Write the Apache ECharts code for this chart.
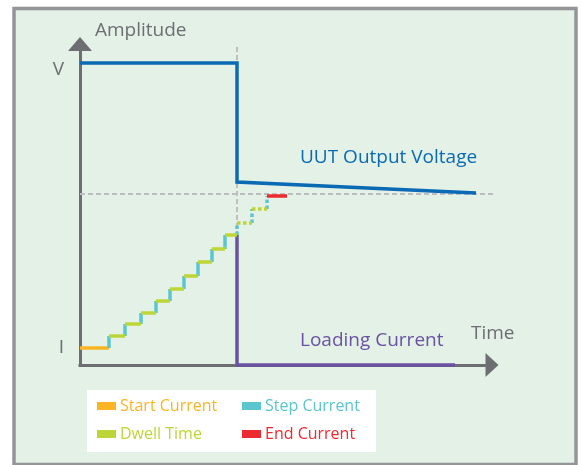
<!DOCTYPE html>
<html>
<head>
<meta charset="utf-8">
<script src="https://cdn.jsdelivr.net/npm/echarts@6/dist/echarts.min.js"></script>
<style>
html,body{margin:0;padding:0;background:#fff;}
#c{width:582px;height:465px;}
</style>
</head>
<body>
<div id="c"></div>
<script>
// ---- data (abstract units: time, amplitude) ----
const stepTimes = [0, 2.9, 4.5, 6.1, 7.6, 9.0, 10.4, 11.8, 13.2, 14.5, 15.7, 17.2, 18.7, 20.7];
const stepLevels = [1.7, 2.9, 4.1, 5.2, 6.4, 7.6, 8.9, 10.3, 11.6, 13.0, 14.2, 15.6, 16.9];
const dottedFrom = 10; // steps from this index on are drawn dotted
const voltageTimes = [0, 15.7, 15.7, 39.6];
const voltageValues = [30.2, 30.2, 18.3, 17.2];
const loadTimes = [15.7, 15.7, 37.5];
const loadValues = [13.0, 0, 0];
const guideLevel = 17.1;       // horizontal dashed guide
const guideTimeEnd = 41.3;
const guideTime = 15.7;        // vertical dashed guide
const guideTop = 31.8;
const tickValues = [29.5, 1.75];
const tickLabels = ['V', 'I'];
const legendNames = ['Start Current', 'Step Current', 'Dwell Time', 'End Current'];

const C = {
  bg: '#e3f1e7', frame: '#939598', axis: '#6d6e71',
  blue: '#0a6ab4', purple: '#6a52a2', orange: '#fbb424',
  cyan: '#5bc5d0', green: '#bed537', red: '#ec2a30', guide: '#bcbec0'
};
const FONT = '"Open Sans", "Noto Sans", sans-serif';

function seg(x1, y1, x2, y2, dotted) {
  const d = { coords: [[x1, y1], [x2, y2]] };
  if (dotted) d.lineStyle = { type: [3.5, 2.5] };
  return d;
}
const startData = [seg(stepTimes[0], stepLevels[0], stepTimes[1], stepLevels[0])];
const dwellData = [], stepData = [];
for (let i = 1; i < stepLevels.length - 1; i++) {
  dwellData.push(seg(stepTimes[i], stepLevels[i], stepTimes[i + 1], stepLevels[i], i >= dottedFrom));
}
for (let i = 1; i < stepLevels.length; i++) {
  stepData.push(seg(stepTimes[i], stepLevels[i - 1], stepTimes[i], stepLevels[i], i >= dottedFrom));
}
const last = stepLevels.length - 1;
const endData = [seg(stepTimes[last], stepLevels[last], stepTimes[last + 1], stepLevels[last])];

function linesSeries(name, color, data, z) {
  return {
    name, type: 'lines', coordinateSystem: 'cartesian2d', clip: false, silent: true, z,
    itemStyle: { color }, lineStyle: { color, width: 3.5, opacity: 1, cap: 'butt' },
    data
  };
}
function label(text, x, y, color) {
  return { type: 'text', x, y, style: { text, fill: color, font: '19px ' + FONT, textAlign: 'left', textVerticalAlign: 'middle' } };
}

const chart = echarts.init(document.getElementById('c'), null, { renderer: 'canvas' });
chart.setOption({
  animation: false,
  backgroundColor: '#ffffff',
  graphic: [
    { type: 'rect', z: -10, shape: { x: 14, y: 8.5, width: 562, height: 456 },
      style: { fill: C.bg, stroke: C.frame, lineWidth: 3.5 } },
    { type: 'rect', z: -5, shape: { x: 87, y: 390, width: 289, height: 62 },
      style: { fill: '#ffffff' } },
    label('Amplitude', 95, 31, C.axis),
    label('Time', 471, 334, C.axis),
    label('UUT Output Voltage', 300, 158, C.blue),
    label('Loading Current', 300, 341, C.purple)
  ],
  grid: { left: 80, top: 44, width: 412, height: 321, containLabel: false },
  xAxis: {
    type: 'value', min: 0, max: 41.2,
    axisLine: { show: true, onZero: false, symbol: ['none', 'triangle'], symbolSize: [24, 13],
      lineStyle: { color: C.axis, width: 3, cap: 'square' } },
    axisTick: { show: false }, axisLabel: { show: false }, splitLine: { show: false }
  },
  yAxis: {
    type: 'value', min: 0, max: 32.1,
    axisLine: { show: true, onZero: false, symbol: ['none', 'triangle'], symbolSize: [24, 14],
      lineStyle: { color: C.axis, width: 3, cap: 'square' } },
    axisTick: { show: false }, splitLine: { show: false },
    axisLabel: {
      show: true, customValues: tickValues, margin: 16, color: C.axis, fontSize: 19, fontFamily: FONT,
      formatter: function (v) { const i = tickValues.indexOf(v); return i >= 0 ? tickLabels[i] : ''; }
    }
  },
  legend: [
    { left: 97, top: 396, orient: 'vertical', icon: 'rect', itemWidth: 17, itemHeight: 6, itemGap: 8,
      padding: 0, selectedMode: false,
      textStyle: { fontSize: 16, fontFamily: FONT, lineHeight: 20 },
      data: [{ name: legendNames[0], textStyle: { color: C.orange } },
             { name: legendNames[2], textStyle: { color: C.green } }] },
    { left: 242, top: 396, orient: 'vertical', icon: 'rect', itemWidth: 17, itemHeight: 6, itemGap: 8,
      padding: 0, selectedMode: false,
      textStyle: { fontSize: 16, fontFamily: FONT, lineHeight: 20 },
      data: [{ name: legendNames[1], textStyle: { color: C.cyan } },
             { name: legendNames[3], textStyle: { color: C.red } }] }
  ],
  series: [
    { name: 'guides', type: 'lines', coordinateSystem: 'cartesian2d', clip: false, silent: true, z: 1,
      lineStyle: { color: C.guide, width: 2, type: [5, 3], opacity: 1 },
      data: [seg(0, guideLevel, guideTimeEnd, guideLevel), seg(guideTime, guideTop, guideTime, stepLevels[9])] },
    { name: 'UUT Output Voltage', type: 'line', silent: true, z: 3, showSymbol: false, symbol: 'none',
      lineStyle: { color: C.blue, width: 3.5, join: 'miter' }, itemStyle: { color: C.blue },
      data: voltageTimes.map((t, i) => [t, voltageValues[i]]) },
    { name: 'Loading Current', type: 'line', silent: true, z: 3, showSymbol: false, symbol: 'none', clip: false,
      lineStyle: { color: C.purple, width: 3.5, join: 'miter' }, itemStyle: { color: C.purple },
      data: loadTimes.map((t, i) => [t, loadValues[i]]) },
    linesSeries(legendNames[0], C.orange, startData, 4),
    linesSeries(legendNames[1], C.cyan, stepData, 4),
    linesSeries(legendNames[2], C.green, dwellData, 5),
    linesSeries(legendNames[3], C.red, endData, 5)
  ]
});
</script>
</body>
</html>
